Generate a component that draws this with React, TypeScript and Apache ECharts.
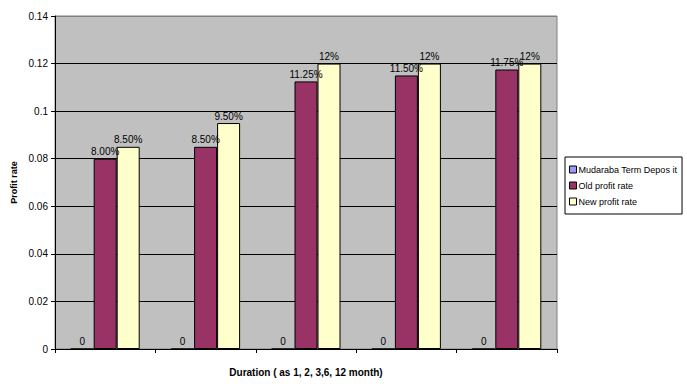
import React, { useEffect, useRef } from "react";
import * as echarts from "echarts";

const categories = ["1", "2", "3", "6", "12"];
const seriesNames = ["Mudaraba Term Depos it", "Old profit rate", "New profit rate"];
const mudarabaValues = [0, 0, 0, 0, 0];
const oldRateValues = [0.08, 0.085, 0.1125, 0.115, 0.1175];
const newRateValues = [0.085, 0.095, 0.12, 0.12, 0.12];
const oldRateLabels = ["8.00%", "8.50%", "11.25%", "11.50%", "11.75%"];
const newRateLabels = ["8.50%", "9.50%", "12%", "12%", "12%"];
const mudarabaLabels = ["0", "0", "0", "0", "0"];
const colors = ["#9999FF", "#993366", "#FFFFCC"];

const FONT = "Liberation Sans, Arial, sans-serif";

export default function App() {
  const ref = useRef<HTMLDivElement>(null);
  useEffect(() => {
    if (!ref.current) return;
    const chart = echarts.init(ref.current, null, { renderer: "svg" });
    const allData = [mudarabaValues, oldRateValues, newRateValues];
    const allLabels = [mudarabaLabels, oldRateLabels, newRateLabels];
    chart.setOption({
      animation: false,
      backgroundColor: "#FFFFFF",
      textStyle: { fontFamily: FONT },
      grid: {
        left: 55,
        right: 130,
        top: 16,
        bottom: 35,
        show: true,
        backgroundColor: "#C0C0C0",
        borderColor: "#808080",
        borderWidth: 1,
      },
      legend: {
        orient: "vertical",
        left: 565,
        top: 157,
        padding: [8, 5, 8, 4],
        itemGap: 7,
        itemWidth: 7,
        itemHeight: 7,
        icon: "rect",
        borderColor: "#000",
        borderWidth: 1,
        backgroundColor: "#fff",
        textStyle: { fontFamily: FONT, fontSize: 9, color: "#000", padding: [0, 0, 0, -3] },
        itemStyle: { borderColor: "#000", borderWidth: 1 },
        data: seriesNames,
      },
      xAxis: {
        type: "category",
        data: categories,
        name: "Duration ( as 1, 2, 3,6, 12 month)",
        nameLocation: "middle",
        nameGap: 18,
        nameTextStyle: { fontFamily: FONT, fontSize: 10, fontWeight: "bold", color: "#000" },
        axisLine: { lineStyle: { color: "#000", width: 1 } },
        axisTick: { show: true, length: 4, lineStyle: { color: "#000" } },
        axisLabel: { show: false },
        splitLine: { show: false },
      },
      yAxis: {
        type: "value",
        min: 0,
        max: 0.14,
        interval: 0.02,
        name: "Profit rate",
        nameLocation: "middle",
        nameGap: 37,
        nameMoveOverlap: false,
        nameRotate: 90,
        nameTextStyle: { fontFamily: FONT, fontSize: 9, fontWeight: "bold", color: "#000" },
        axisLine: { show: true, lineStyle: { color: "#000", width: 1 } },
        axisTick: { show: true, length: 4, lineStyle: { color: "#000" } },
        axisLabel: { fontFamily: FONT, fontSize: 10, color: "#000", margin: 7 },
        splitLine: {
          show: true,
          lineStyle: {
            color: ["#000", "#000", "#000", "#000", "#000", "#000", "#000", "#808080"],
            width: 1,
          },
        },
      },
      series: seriesNames.map((name, i) => ({
        name,
        type: "bar",
        data: allData[i],
        barWidth: 23,
        barGap: "0%",
        itemStyle: { color: colors[i], borderColor: "#000", borderWidth: 1 },
        label: {
          show: true,
          position: "top",
          distance: 2,
          fontFamily: FONT,
          fontSize: 10,
          color: "#000",
          formatter: (p: any) => allLabels[i][p.dataIndex],
        },
      })),
    });
    return () => chart.dispose();
  }, []);
  return (
    <div
      ref={ref}
      style={{ position: "absolute", left: 0, top: 0, width: 687, height: 384 }}
    />
  );
}
